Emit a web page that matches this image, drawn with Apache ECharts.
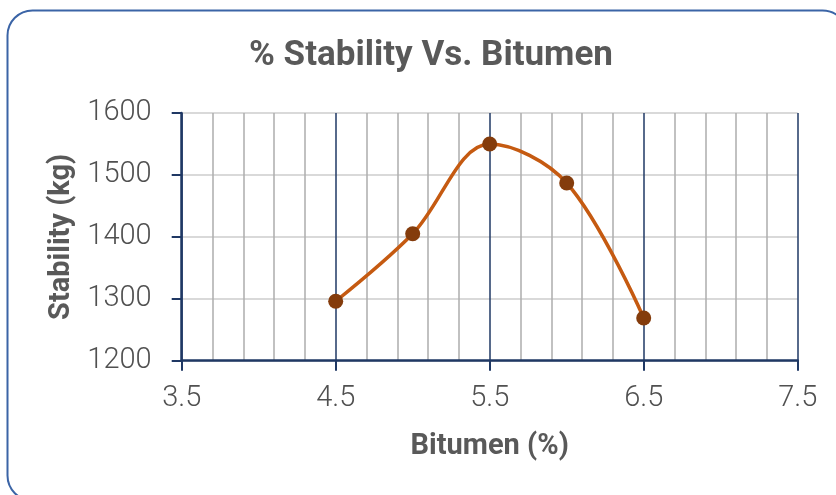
<!DOCTYPE html>
<html>
<head>
<meta charset="utf-8">
<script src="https://cdn.jsdelivr.net/npm/echarts@6/dist/echarts.min.js"></script>
<style>html,body{margin:0;padding:0;background:#fff}#c{width:836px;height:495px}</style>
</head>
<body>
<div id="c"></div>
<script>
const bitumen = [4.5, 5.0, 5.5, 6.0, 6.5];
const stability = [1296, 1405, 1550, 1487, 1269];
const chartTitle = '% Stability Vs. Bitumen';
const xTitle = 'Bitumen (%)';
const yTitle = 'Stability (kg)';

const chart = echarts.init(document.getElementById('c'), null, {renderer: 'canvas'});
const txt = '#595959';
chart.setOption({
  backgroundColor: '#fff',
  animation: false,
  graphic: [{
    type: 'rect', z: 100, silent: true,
    shape: {x: 7.5, y: 10.5, width: 840, height: 490, r: 25},
    style: {fill: 'none', stroke: '#3B64A6', lineWidth: 2}
  }],
  title: {
    text: chartTitle, left: 426, top: 34, textAlign: 'center',
    textStyle: {fontFamily: 'Roboto', fontWeight: 'bold', fontSize: 35, color: txt}
  },
  grid: {left: 181.7, right: 38.3, top: 113, bottom: 134.3},
  xAxis: {
    type: 'value', min: 3.5, max: 7.5, interval: 1,
    name: xTitle, nameLocation: 'middle', nameGap: 72,
    nameTextStyle: {fontFamily: 'Roboto', fontWeight: 'bold', fontSize: 29, color: txt},
    axisLine: {show: true, onZero: false, lineStyle: {color: '#1F3864', width: 2.5}},
    axisTick: {show: true, length: 10, lineStyle: {color: '#1F3864', width: 2}},
    axisLabel: {margin: 24, fontFamily: 'Roboto', fontWeight: 300, fontSize: 29, color: '#505050',
      formatter: v => v.toFixed(1)},
    splitLine: {show: true, lineStyle: {color: '#1F3864', width: 1.5}},
    minorTick: {show: false, splitNumber: 5},
    minorSplitLine: {show: true, lineStyle: {color: '#ADADAD', width: 1.5}}
  },
  yAxis: {
    type: 'value', min: 1200, max: 1600, interval: 100,
    name: yTitle, nameLocation: 'middle', nameGap: 105, nameRotate: 90,
    nameTextStyle: {fontFamily: 'Roboto', fontWeight: 'bold', fontSize: 29, color: txt},
    axisLine: {show: true, lineStyle: {color: '#1F3864', width: 2.5}},
    axisTick: {show: true, length: 10, lineStyle: {color: '#1F3864', width: 2}},
    axisLabel: {margin: 30, fontFamily: 'Roboto', fontWeight: 300, fontSize: 29, color: '#505050',
      formatter: v => String(v)},
    splitLine: {show: true, lineStyle: {color: '#D9D9D9', width: 2}}
  },
  series: [{
    type: 'line', smooth: 0.35,
    data: bitumen.map((x, i) => [x, stability[i]]),
    lineStyle: {color: '#C55A11', width: 3.5},
    symbol: 'circle', symbolSize: 15,
    itemStyle: {color: '#843C0C'},
    z: 5
  }]
});
</script>
</body>
</html>
